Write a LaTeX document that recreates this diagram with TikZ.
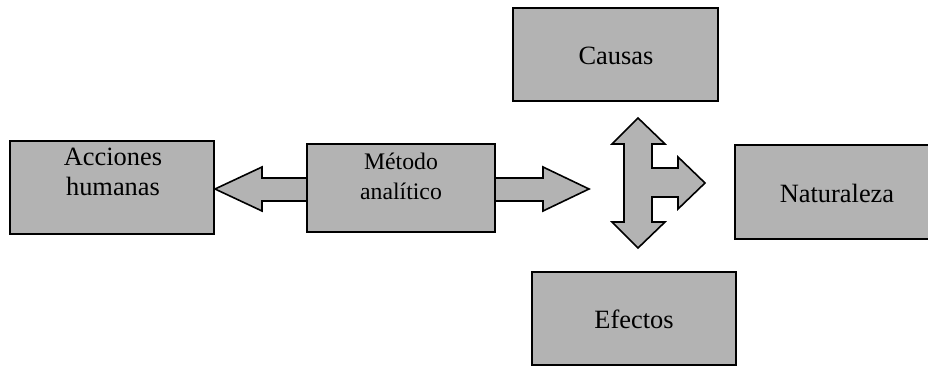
\documentclass[tikz,border=0pt]{standalone}
\usepackage{fontspec}
\setmainfont{Liberation Serif}
\definecolor{boxgray}{RGB}{179,179,179}
\begin{document}
\begin{tikzpicture}[x=0.75pt,y=-0.75pt,
  box/.style={draw=black,fill=boxgray,line width=1.4pt},
  blockarrow/.style={draw=black,fill=boxgray,line width=1.2pt,line join=miter},
  bigtext/.style={font=\fontsize{19.8}{23}\selectfont,align=center,inner sep=0pt},
  smalltext/.style={font=\fontsize{17.8}{22.5}\selectfont,align=center,inner sep=0pt}]
\useasboundingbox (0,0) rectangle (928,366);
% double arrow behind Metodo box
\draw[blockarrow] (215,189) -- (262,167) -- (262,178) -- (543,178) -- (543,167) -- (589,189)
  -- (543,211) -- (543,201) -- (262,201) -- (262,211) -- cycle;
% boxes
\draw[box] (10,141) rectangle (214,234) coordinate (accbox);
\draw[box] (307,144) rectangle (495,232) coordinate (metbox);
\draw[box] (513,8) rectangle (718,101) coordinate (caubox);
\draw[box] (735,145) rectangle (935,239) coordinate (natbox);
\draw[box] (532,272) rectangle (736,365) coordinate (efebox);
% texts
\node[bigtext] (acc) at (113,172) {Acciones\\humanas};
\node[smalltext] (met) at (401,176) {Método\\analítico};
\node[bigtext] (cau) at (616,56) {Causas};
\node[bigtext] (nat) at (837,193) {Naturaleza};
\node[bigtext] (efe) at (634,319) {Efectos};
% cross arrow
\draw[blockarrow] (638,118) -- (665,144) -- (652,144) -- (652,168) -- (678,168) -- (678,157)
  -- (705,183) -- (678,209) -- (678,197) -- (652,197) -- (652,222) -- (665,222)
  -- (638,248) -- (612,222) -- (624,222) -- (624,144) -- (612,144) -- cycle;
\end{tikzpicture}
\end{document}
